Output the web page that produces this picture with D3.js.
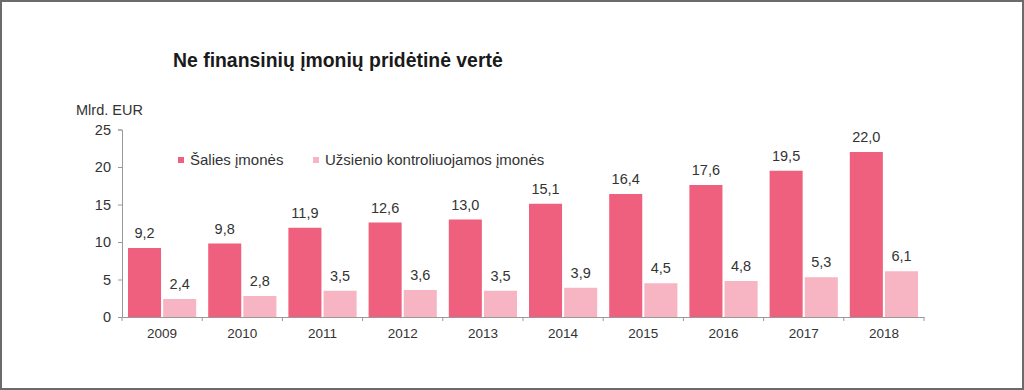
<!DOCTYPE html>
<html>
<head>
<meta charset="utf-8">
<script src="https://cdn.jsdelivr.net/npm/d3@7"></script>
<style>
  html, body { margin: 0; padding: 0; background: #fff; }
  text { font-family: "Liberation Sans", Arial, sans-serif; fill: #333; }
</style>
</head>
<body>
<div id="chart"></div>
<script>
// Duomenys
var years = ["2009", "2010", "2011", "2012", "2013", "2014", "2015", "2016", "2017", "2018"];
var series = ["Šalies įmonės", "Užsienio kontroliuojamos įmonės"];
var domestic = [9.2, 9.8, 11.9, 12.6, 13.0, 15.1, 16.4, 17.6, 19.5, 22.0];
var foreign = [2.4, 2.8, 3.5, 3.6, 3.5, 3.9, 4.5, 4.8, 5.3, 6.1];
var yTicks = [0, 5, 10, 15, 20, 25];
var colors = ["#ef5f7e", "#f7b4c3"];

var w = 1024, h = 390;
var margin = {top: 129.5, right: 100, bottom: 73, left: 122};
var width = 924 - margin.left;
var height = h - margin.top - margin.bottom;

var svg = d3.select("#chart")
  .append("svg")
  .attr("width", w)
  .attr("height", h);

// Remelis
svg.append("rect")
  .attr("x", 1).attr("y", 1)
  .attr("width", w - 2).attr("height", h - 2)
  .attr("fill", "none")
  .attr("stroke", "#6b6b6b")
  .attr("stroke-width", 2);

// Pavadinimas
svg.append("text")
  .attr("x", 173)
  .attr("y", 67)
  .attr("font-size", "19.4px")
  .attr("font-weight", "bold")
  .style("fill", "#1a1a1a")
  .text("Ne finansinių įmonių pridėtinė vertė");

svg.append("text")
  .attr("x", 76)
  .attr("y", 115)
  .attr("font-size", "14.5px")
  .text("Mlrd. EUR");

var g = svg.append("g")
  .attr("transform", "translate(" + margin.left + "," + margin.top + ")");

var x0 = d3.scaleBand().domain(years).range([0, width]).padding(0);
var x1 = d3.scaleBand().domain(series).range([6, x0.bandwidth() - 6]).paddingInner(0.06);
var y = d3.scaleLinear().domain([0, 25]).range([height, 0]);

// Asys
var yAxis = g.append("g")
  .call(d3.axisLeft(y).tickValues(yTicks).tickSize(4).tickPadding(7));
yAxis.selectAll("text").attr("font-size", "14.5px");

var xAxis = g.append("g")
  .attr("transform", "translate(0," + height + ")")
  .call(d3.axisBottom(x0).tickSize(0).tickPadding(11));
xAxis.selectAll("text").attr("font-size", "13.5px");
// kategoriju ribu bruksneliai
xAxis.selectAll(".sep")
  .data(years.concat(["end"]))
  .enter()
  .append("line")
  .attr("class", "sep")
  .attr("x1", function(d, i) { return i * x0.step(); })
  .attr("x2", function(d, i) { return i * x0.step(); })
  .attr("y1", 0).attr("y2", 4)
  .attr("stroke", "#999");

svg.selectAll(".domain, .tick line").attr("stroke", "#999");
svg.selectAll(".tick text").style("fill", "#333");

// Stulpeliai
var rows = years.map(function(yr, i) {
  return {year: yr, vals: [domestic[i], foreign[i]]};
});

var groups = g.selectAll(".yr")
  .data(rows)
  .enter()
  .append("g")
  .attr("transform", function(d) { return "translate(" + x0(d.year) + ",0)"; });

groups.selectAll("rect")
  .data(function(d) { return d.vals.map(function(v, k) { return {s: series[k], v: v, k: k}; }); })
  .enter()
  .append("rect")
  .attr("x", function(d) { return x1(d.s); })
  .attr("y", function(d) { return y(d.v); })
  .attr("width", x1.bandwidth())
  .attr("height", function(d) { return height - y(d.v); })
  .attr("fill", function(d) { return colors[d.k]; });

groups.selectAll(".lbl")
  .data(function(d) { return d.vals.map(function(v, k) { return {s: series[k], v: v}; }); })
  .enter()
  .append("text")
  .attr("class", "lbl")
  .attr("x", function(d) { return x1(d.s) + x1.bandwidth() / 2; })
  .attr("y", function(d) { return y(d.v) - 10; })
  .attr("text-anchor", "middle")
  .attr("font-size", "14.5px")
  .text(function(d) { return d3.format(".1f")(d.v).replace(".", ","); });

// Legenda
var legX = [178, 313];
series.forEach(function(s, k) {
  svg.append("rect")
    .attr("x", legX[k]).attr("y", 157)
    .attr("width", 6).attr("height", 6)
    .attr("fill", colors[k]);
  svg.append("text")
    .attr("x", legX[k] + 12)
    .attr("y", 165)
    .attr("font-size", "15px")
    .text(s);
});
</script>
</body>
</html>
